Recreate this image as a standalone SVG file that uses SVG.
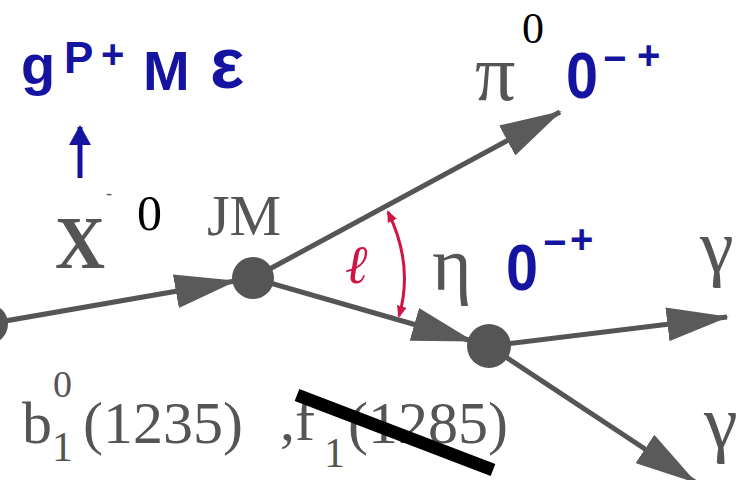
<svg xmlns="http://www.w3.org/2000/svg" width="739" height="480" viewBox="0 0 739 480">
<style>
.ln{stroke:#555;stroke-width:5;fill:none;marker-end:url(#ah)}
.nd{fill:#555}
.gr{font-family:"Liberation Serif",serif;fill:#555}
.bk{font-family:"Liberation Serif",serif;fill:#000}
.bl{font-family:"Liberation Sans","DejaVu Sans",sans-serif;font-weight:bold;fill:#1414a0}
.rd{fill:#d01444}
</style>
<defs>
<marker id="ah" viewBox="0 0 62 34" refX="60" refY="17" markerWidth="62" markerHeight="34" markerUnits="userSpaceOnUse" orient="auto">
<path d="M0,0 L62,17 L0,34 z" fill="#5a5a5a"/>
</marker>
<marker id="rh" viewBox="0 0 12 10" refX="10" refY="5" markerWidth="12" markerHeight="10" markerUnits="userSpaceOnUse" orient="auto-start-reverse">
<path d="M0,0 L12,5 L0,10 z" fill="#d01444"/>
</marker>
<marker id="bh" viewBox="0 0 20 28" refX="18" refY="14" markerWidth="20" markerHeight="28" markerUnits="userSpaceOnUse" orient="auto">
<path d="M0,3 L20,14 L0,25 z" fill="#1414a0"/>
</marker>
</defs>
<rect width="739" height="480" fill="#fff"/>
<g id="connectors">
<line class="ln" x1="-12" y1="324" x2="235" y2="281"/>
<line class="ln" x1="253" y1="278" x2="560" y2="112"/>
<line class="ln" x1="253" y1="278" x2="472" y2="341"/>
<line class="ln" x1="489" y1="346" x2="727" y2="317"/>
<line class="ln" x1="489" y1="346" x2="695" y2="482"/>
</g>
<g id="node-left"><circle class="nd" cx="-12" cy="324" r="20"/></g>
<g id="node-JM"><circle class="nd" cx="253" cy="278" r="21"/>
<text class="gr" x="207" y="235" font-size="58">JM</text></g>
<g id="node-eta-decay"><circle class="nd" cx="489" cy="346" r="22"/></g>
<g id="label-X">
<text class="gr" x="55" y="268" font-size="74" font-weight="bold" textLength="50" lengthAdjust="spacingAndGlyphs">X</text>
<text class="gr" x="106" y="199" font-size="18">-</text>
<text class="bk" x="137" y="230" font-size="50">0</text>
</g>
<g id="label-JPC">
<text class="bl" x="21" y="84" font-size="56">g</text>
<text class="bl" x="64" y="73" font-size="44">P</text>
<text class="bl" x="101" y="68" font-size="40">+</text>
<text class="bl" x="143" y="90" font-size="56">M</text>
<text class="bl" x="210" y="88" font-size="72">ε</text>
<line x1="80" y1="178" x2="80" y2="127" stroke="#1414a0" stroke-width="5" marker-end="url(#bh)"/>
</g>
<g id="label-pi">
<text class="bk" x="522" y="43" font-size="44">0</text>
<text class="gr" x="475" y="100" font-size="80">π</text>
<text class="bl" x="566" y="98" font-size="64" textLength="32" lengthAdjust="spacingAndGlyphs">0</text>
<text class="bl" x="603" y="72" font-size="40">−</text>
<text class="bl" x="637" y="69" font-size="40">+</text>
</g>
<g id="label-eta">
<text class="gr" x="432" y="290" font-size="76">η</text>
<text class="bl" x="506" y="290" font-size="64" textLength="32" lengthAdjust="spacingAndGlyphs">0</text>
<text class="bl" x="543" y="256" font-size="40">−</text>
<text class="bl" x="570" y="253" font-size="40">+</text>
</g>
<g id="angle">
<path d="M388,212 Q414,265 399,316" stroke="#d01444" stroke-width="3" fill="none" marker-start="url(#rh)" marker-end="url(#rh)"/>
<text class="rd" x="345" y="283" font-size="54" font-family="'DejaVu Serif',serif" font-style="italic">ℓ</text>
</g>
<g id="label-gamma1"><text class="gr" x="700" y="272" font-size="76">γ</text></g>
<g id="label-gamma2"><text class="gr" x="704" y="448" font-size="76">γ</text></g>
<g id="label-b1">
<text class="gr" x="22" y="443" font-size="60">b</text>
<text class="gr" x="53" y="397" font-size="38">0</text>
<text class="gr" x="52" y="461" font-size="42">1</text>
<text class="gr" x="83" y="443" font-size="60">(1235)</text>
</g>
<g id="label-f1">
<text class="gr" x="280" y="440" font-size="60">,f</text>
<text class="gr" x="324" y="467" font-size="42">1</text>
<text class="gr" x="348" y="443" font-size="60">(1285)</text>
<line x1="297" y1="395" x2="493" y2="470" stroke="#000" stroke-width="13"/>
</g>
</svg>
